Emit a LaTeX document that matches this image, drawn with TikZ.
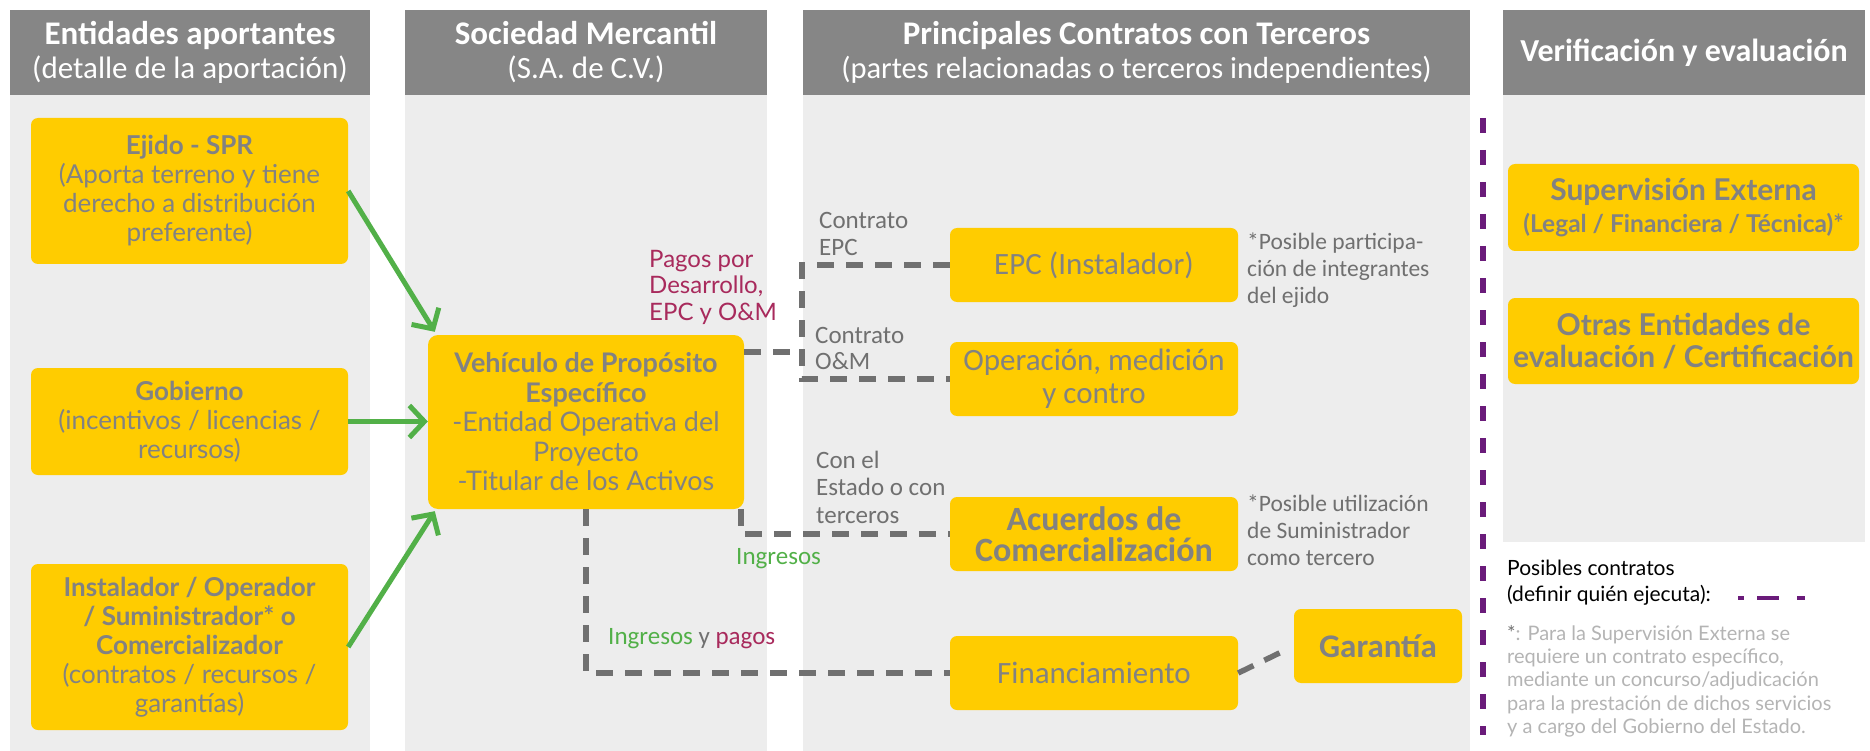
\documentclass[tikz,border=0pt]{standalone}
\usepackage{fontspec}
\setmainfont{Lato}
\newfontfamily\condf{Carlito}
\usetikzlibrary{arrows.meta}
\definecolor{hdrgray}{RGB}{134,134,134}
\definecolor{panelgray}{RGB}{237,237,237}
\definecolor{boxyellow}{RGB}{255,204,0}
\definecolor{boxtext}{RGB}{130,130,130}
\definecolor{dashgray}{RGB}{112,112,112}
\definecolor{arrowgreen}{RGB}{82,176,72}
\definecolor{pagored}{RGB}{168,42,92}
\definecolor{legpurple}{RGB}{106,27,122}
\definecolor{notegray}{RGB}{112,112,112}
\definecolor{footgray}{RGB}{180,180,180}

\begin{document}
\begin{tikzpicture}[x=1pt,y=-1pt,
    hdr/.style={fill=hdrgray,text=white,align=center,inner sep=0pt,minimum height=85pt,
      font=\condf\fontsize{31}{34}\selectfont},
    ybox/.style={fill=boxyellow,text=boxtext,rounded corners=7pt,align=center,inner sep=0pt},
    lbox/.style={ybox,minimum width=317pt,font=\fontsize{26}{29}\selectfont},
    cbox/.style={ybox,minimum width=288pt,minimum height=74pt,font=\condf\fontsize{31}{33}\selectfont},
    vbox/.style={ybox,minimum width=351pt,font=\bfseries\fontsize{30}{32}\selectfont},
    lbl/.style={anchor=west,align=left,inner sep=0pt,text=notegray,font=\condf\fontsize{25}{26.5}\selectfont},
    dline/.style={draw=dashgray,line width=5.5pt,dash pattern=on 17pt off 12pt},
    garrow/.style={draw=arrowgreen,line width=5pt,-{Straight Barb[length=15pt,width=32pt]}},
    pline/.style={draw=legpurple,line width=6pt,dash pattern=on 15pt off 17pt}]
  \useasboundingbox (0,0) rectangle (1870,751);

      %% columns %%
  \foreach \xa/\xb in {10/370,405/767,803/1470}
  { \fill[panelgray] (\xa,95) rectangle (\xb,751);}
  \fill[panelgray] (1503,95) rectangle (1865,542);

  \node[hdr,minimum width=360pt] (hEnt) at (190,52.5) {{\bfseries\fontsize{33}{34}\selectfont Entidades aportantes}\\(detalle de la aportación)};
  \node[hdr,minimum width=362pt] (hSoc) at (586,52.5) {{\bfseries\fontsize{33}{34}\selectfont Sociedad Mercantil}\\(S.A. de C.V.)};
  \node[hdr,minimum width=667pt] (hCon) at (1136.5,52.5) {{\bfseries\fontsize{33}{34}\selectfont Principales Contratos con Terceros}\\{\fontsize{30.5}{34}\selectfont (partes relacionadas o terceros independientes)}};
  \node[hdr,minimum width=362pt] (hVer) at (1684,52.5) {\bfseries\fontsize{32}{34}\selectfont Verificación y evaluación};

      %% entidades aportantes %%
  \node[lbox,minimum height=146pt] (ejido) at (189.5,191) {{\bfseries Ejido - SPR}\\(Aporta terreno y tiene\\derecho a distribución\\preferente)};
  \node[lbox,minimum height=107pt] (gob) at (189.5,421.5) {{\bfseries Gobierno}\\(incentivos / licencias /\\recursos)};
  \node[lbox,minimum height=166pt] (inst) at (189.5,647) {{\bfseries Instalador / Operador}\\{\bfseries / Suministrador* o}\\{\bfseries Comercializador}\\(contratos / recursos /\\garantías)};

  \node[ybox,minimum width=316pt,minimum height=174pt,rounded corners=10pt,font=\fontsize{27}{29.5}\selectfont] (vpe) at (586,422)
    {{\bfseries Vehículo de Propósito}\\{\bfseries Específico}\\-Entidad Operativa del\\Proyecto\\-Titular de los Activos};

  \draw[garrow] (ejido.east) -- ([shift={(7,-3)}]vpe.north west);
  \draw[garrow] (gob.east) -- (gob.east -| vpe.west);
  \draw[garrow] (inst.east) -- ([shift={(7,2)}]vpe.south west);

      %% contratos %%
  \node[cbox] (epc) at (1094,265) {EPC (Instalador)};
  \node[cbox] (om) at (1094,379) {Operación, medición\\y contro};
  \node[cbox,font=\condf\bfseries\fontsize{34}{31}\selectfont] (acu) at (1094,534) {Acuerdos de\\Comercialización};
  \node[cbox] (fin) at (1094,673) {Financiamiento};
  \node[cbox,minimum width=168pt,font=\condf\bfseries\fontsize{33}{33}\selectfont] (gar) at (1378,646) {Garantía};

  \coordinate (brk) at (802,352);
  \draw[dline] (vpe.east |- brk) -- (brk);
  \draw[dline] (epc.west) -| (brk) |- (om.west);
  \draw[dline] ([xshift=-3pt]vpe.south east) |- (acu.west);
  \draw[dline] (vpe.south) |- (fin.west);
  \draw[dline,shorten >=8pt] (fin.east) -- (gar.west);

  \node[lbl] (lEPC) at (819,234) {Contrato\\EPC};
  \node[lbl] (lOM) at (815,348.5) {Contrato\\O\&M};
  \node[lbl,font=\condf\fontsize{25}{27.5}\selectfont] (lEst) at (816,487) {Con el\\Estado o con\\terceros};
  \node[lbl,text=pagored,font=\fontsize{24}{26.5}\selectfont] (lPag) at (649,287) {Pagos por\\Desarrollo,\\EPC y O\&M};
  \node[lbl,text=arrowgreen] (lIng) at (736,559) {Ingresos};
  \node[lbl] (lIyP) at (608,639) {\textcolor{arrowgreen}{Ingresos} y \textcolor{pagored}{pagos}};
  \node[lbl,font=\condf\fontsize{23.5}{27}\selectfont] (nEjido) at (1247,270) {*Posible participa-\\ción de integrantes\\del ejido};
  \node[lbl,font=\condf\fontsize{23.5}{27}\selectfont] (nSum) at (1247,530) {*Posible utilización\\de Suministrador\\como tercero};

      %% verificacion %%
  \node[vbox,minimum height=87pt] (sup) at (1683.5,207.5) {{\fontsize{30}{30}\selectfont Supervisión Externa}\\{\fontsize{24.5}{26}\selectfont (Legal / Financiera / Técnica)*}};
  \node[vbox,minimum height=86pt] (otras) at (1683.5,341) {Otras Entidades de\\evaluación / Certificación};

  \coordinate (pTop) at (1483,118);
  \coordinate (pBot) at (1483,735);
  \draw[pline] (pTop) -- (pBot);

  \node[lbl,text=black,font=\fontsize{21}{26}\selectfont] (leg) at (1507,583) {Posibles contratos\\(definir quién ejecuta):};
  \coordinate (legA) at (1738,598);
  \coordinate (legB) at (1805,598);
  \draw[pline,line width=4.5pt,dash pattern=on 6pt off 13pt on 22pt off 18pt on 8pt off 50pt] (legA) -- (legB);

  \node[lbl,text=footgray,font=\fontsize{20}{23.3}\selectfont] (foot) at (1507,681)
    {\textcolor{notegray}{*}: Para la Supervisión Externa se\\requiere un contrato específico,\\mediante un concurso/adjudicación\\para la prestación de dichos servicios\\y a cargo del Gobierno del Estado.};
\end{tikzpicture}
\end{document}
